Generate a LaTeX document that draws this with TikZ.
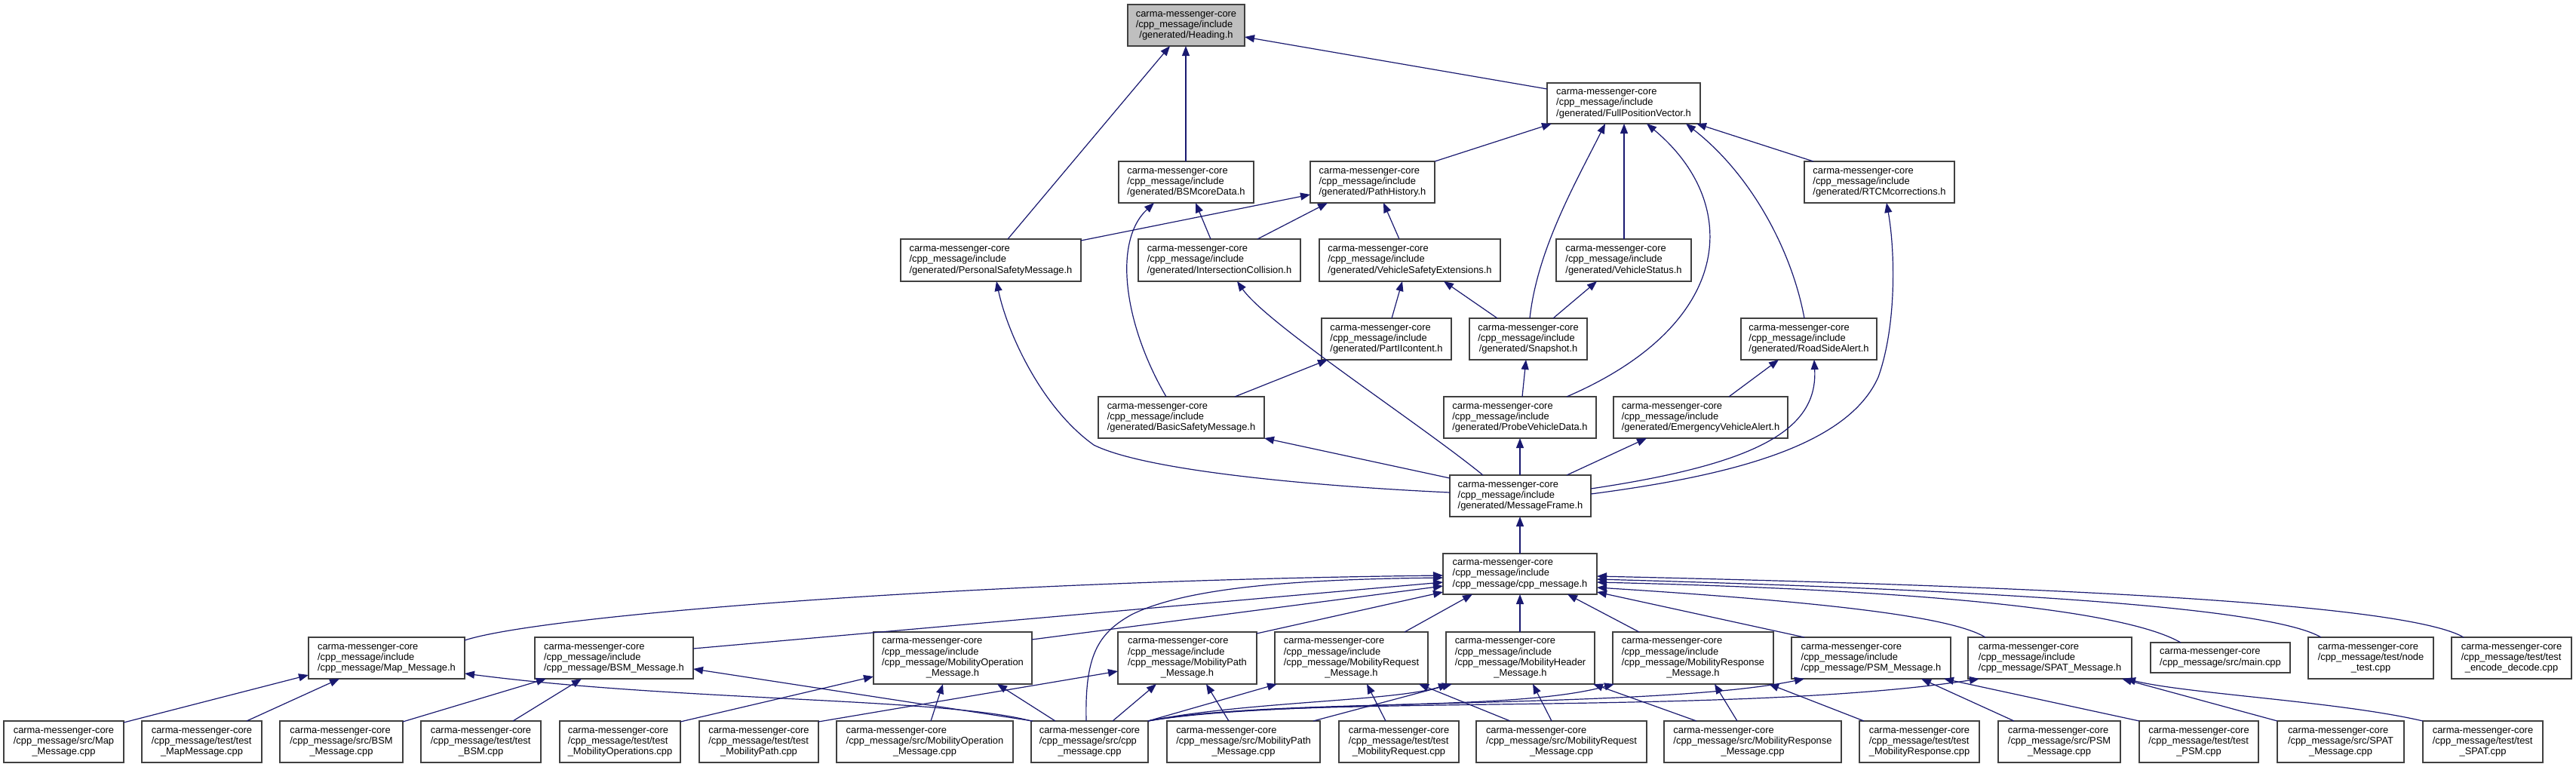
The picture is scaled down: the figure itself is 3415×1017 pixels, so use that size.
\documentclass[tikz,border=0pt]{standalone}
\usepackage{fontspec}
\setmainfont{Liberation Sans}
\usetikzlibrary{arrows.meta,calc}
\definecolor{edgec}{HTML}{191970}
\definecolor{boxc}{HTML}{404040}
\definecolor{headfill}{HTML}{BFBFBF}
\tikzset{
  nbox/.style={draw=boxc, line width=0.7pt, inner sep=0pt, outer sep=0pt,
    font=\fontsize{6.45pt}{7.17pt}\selectfont, text=black},
  edge/.style={draw=edgec, line width=0.6pt, -{Triangle[length=6.5pt,width=5pt]}}
}
\newcommand\bx[7][white]{\node[nbox,fill=#1,minimum width={(#5-#3)*0.5pt},minimum height={(#6-#4)*0.5pt}] (#2) at ({(#3+#5)/2},{(#4+#6)/2}) {#7};}
\newcommand\ltwo[2]{\begin{tabular}{@{}l@{}}#1\\\multicolumn{1}{@{}c@{}}{#2}\end{tabular}}
\newcommand\lthree[3]{\begin{tabular}{@{}l@{}}#1\\#2\\\multicolumn{1}{@{}c@{}}{#3}\end{tabular}}
\newcommand\lfour[4]{\begin{tabular}{@{}l@{}}#1\\#2\\#3\\\multicolumn{1}{@{}c@{}}{#4}\end{tabular}}
\newcommand\ptT[2]{($(#1.north west)+(#2,0)$)}
\newcommand\ptB[2]{($(#1.south west)+(#2,0)$)}
\newcommand\ptL[2]{($(#1.north west)+(0,#2)$)}
\newcommand\ptR[2]{($(#1.north east)+(0,#2)$)}
\def\cmc{carma-messenger-core}
\def\inc{/cpp\_message/include}
\begin{document}
\begin{tikzpicture}[x=0.5pt,y=-0.5pt]
\fill[white] (0,0) rectangle (3415,1017);
\useasboundingbox (0,0) rectangle (3415,1017);
% generated headers
\bx[headfill]{head}{1495}{6}{1650}{61}{\lthree{\cmc}{\inc}{/generated/Heading.h}}
\bx{fpv}{2051}{110}{2254}{164}{\lthree{\cmc}{\inc}{/generated/FullPositionVector.h}}
\bx{bsmcore}{1483}{214}{1662}{269}{\lthree{\cmc}{\inc}{/generated/BSMcoreData.h}}
\bx{path}{1737}{214}{1902}{269}{\lthree{\cmc}{\inc}{/generated/PathHistory.h}}
\bx{rtcm}{2392}{214}{2591}{269}{\lthree{\cmc}{\inc}{/generated/RTCMcorrections.h}}
\bx{psmg}{1194}{317}{1433}{373}{\lthree{\cmc}{\inc}{/generated/PersonalSafetyMessage.h}}
\bx{ic}{1509}{317}{1724}{373}{\lthree{\cmc}{\inc}{/generated/IntersectionCollision.h}}
\bx{vse}{1749}{317}{1989}{373}{\lthree{\cmc}{\inc}{/generated/VehicleSafetyExtensions.h}}
\bx{vstat}{2063}{317}{2242}{373}{\lthree{\cmc}{\inc}{/generated/VehicleStatus.h}}
\bx{part}{1752}{422}{1924}{477}{\lthree{\cmc}{\inc}{/generated/PartIIcontent.h}}
\bx{snap}{1948}{422}{2104}{477}{\lthree{\cmc}{\inc}{/generated/Snapshot.h}}
\bx{rsa}{2308}{422}{2488}{477}{\lthree{\cmc}{\inc}{/generated/RoadSideAlert.h}}
\bx{bsm}{1456}{526}{1676}{581}{\lthree{\cmc}{\inc}{/generated/BasicSafetyMessage.h}}
\bx{pvd}{1914}{526}{2116}{581}{\lthree{\cmc}{\inc}{/generated/ProbeVehicleData.h}}
\bx{eva}{2139}{526}{2370}{581}{\lthree{\cmc}{\inc}{/generated/EmergencyVehicleAlert.h}}
\bx{mf}{1922}{630}{2109}{685}{\lthree{\cmc}{\inc}{/generated/MessageFrame.h}}
\bx{cpph}{1913}{734}{2117}{788}{\lthree{\cmc}{\inc}{/cpp\_message/cpp\_message.h}}
% message headers
\bx{maph}{409}{845}{616}{900}{\lthree{\cmc}{\inc}{/cpp\_message/Map\_Message.h}}
\bx{bsmh}{709}{845}{919}{900}{\lthree{\cmc}{\inc}{/cpp\_message/BSM\_Message.h}}
\bx{mopH}{1158}{838}{1368}{907}{\lfour{\cmc}{\inc}{/cpp\_message/MobilityOperation}{\_Message.h}}
\bx{mpathH}{1482}{838}{1666}{907}{\lfour{\cmc}{\inc}{/cpp\_message/MobilityPath}{\_Message.h}}
\bx{mreqH}{1690}{838}{1893}{907}{\lfour{\cmc}{\inc}{/cpp\_message/MobilityRequest}{\_Message.h}}
\bx{mhdrH}{1917}{838}{2114}{907}{\lfour{\cmc}{\inc}{/cpp\_message/MobilityHeader}{\_Message.h}}
\bx{mresH}{2138}{838}{2351}{907}{\lfour{\cmc}{\inc}{/cpp\_message/MobilityResponse}{\_Message.h}}
\bx{psmH}{2375}{845}{2586}{900}{\lthree{\cmc}{\inc}{/cpp\_message/PSM\_Message.h}}
\bx{spatH}{2609}{845}{2826}{900}{\lthree{\cmc}{\inc}{/cpp\_message/SPAT\_Message.h}}
\bx{mainc}{2851}{852}{3036}{892}{\ltwo{\cmc}{/cpp\_message/src/main.cpp}}
\bx{nodet}{3060}{845}{3226}{900}{\lthree{\cmc}{/cpp\_message/test/node}{\_test.cpp}}
\bx{encd}{3250}{845}{3409}{900}{\lthree{\cmc}{/cpp\_message/test/test}{\_encode\_decode.cpp}}
% sources
\bx{mapc}{5}{956}{164}{1011}{\lthree{\cmc}{/cpp\_message/src/Map}{\_Message.cpp}}
\bx{tmap}{188}{956}{347}{1011}{\lthree{\cmc}{/cpp\_message/test/test}{\_MapMessage.cpp}}
\bx{bsmc}{371}{956}{534}{1011}{\lthree{\cmc}{/cpp\_message/src/BSM}{\_Message.cpp}}
\bx{tbsm}{558}{956}{717}{1011}{\lthree{\cmc}{/cpp\_message/test/test}{\_BSM.cpp}}
\bx{tmop}{742}{956}{902}{1011}{\lthree{\cmc}{/cpp\_message/test/test}{\_MobilityOperations.cpp}}
\bx{tmpath}{927}{956}{1085}{1011}{\lthree{\cmc}{/cpp\_message/test/test}{\_MobilityPath.cpp}}
\bx{mopc}{1109}{956}{1343}{1011}{\lthree{\cmc}{/cpp\_message/src/MobilityOperation}{\_Message.cpp}}
\bx{cppc}{1367}{956}{1522}{1011}{\lthree{\cmc}{/cpp\_message/src/cpp}{\_message.cpp}}
\bx{mpathc}{1547}{956}{1750}{1011}{\lthree{\cmc}{/cpp\_message/src/MobilityPath}{\_Message.cpp}}
\bx{tmreq}{1775}{956}{1934}{1011}{\lthree{\cmc}{/cpp\_message/test/test}{\_MobilityRequest.cpp}}
\bx{mreqc}{1957}{956}{2183}{1011}{\lthree{\cmc}{/cpp\_message/src/MobilityRequest}{\_Message.cpp}}
\bx{mresc}{2206}{956}{2441}{1011}{\lthree{\cmc}{/cpp\_message/src/MobilityResponse}{\_Message.cpp}}
\bx{tmres}{2465}{956}{2624}{1011}{\lthree{\cmc}{/cpp\_message/test/test}{\_MobilityResponse.cpp}}
\bx{psmc}{2649}{956}{2811}{1011}{\lthree{\cmc}{/cpp\_message/src/PSM}{\_Message.cpp}}
\bx{tpsm}{2836}{956}{2994}{1011}{\lthree{\cmc}{/cpp\_message/test/test}{\_PSM.cpp}}
\bx{spatc}{3019}{956}{3187}{1011}{\lthree{\cmc}{/cpp\_message/src/SPAT}{\_Message.cpp}}
\bx{tspat}{3212}{956}{3371}{1011}{\lthree{\cmc}{/cpp\_message/test/test}{\_SPAT.cpp}}
% upper edges
\draw[edge] \ptL{fpv}{8} -- \ptR{head}{43};
\draw[edge] \ptT{bsmcore}{89} -- \ptB{head}{77};
\draw[edge] \ptT{psmg}{142} -- \ptB{head}{56};
\draw[edge] \ptT{path}{165} -- \ptB{fpv}{6};
\draw[edge] \ptT{snap}{80} .. controls (2038,330) and (2090,240) .. \ptB{fpv}{77};
\draw[edge] \ptT{vstat}{90} -- \ptB{fpv}{102};
\draw[edge] \ptT{pvd}{163} .. controls (2300,430) and (2310,270) .. \ptB{fpv}{132};
\draw[edge] \ptT{rsa}{84} .. controls (2375,330) and (2320,230) .. \ptB{fpv}{184};
\draw[edge] \ptT{rtcm}{12} -- \ptB{fpv}{198};
\draw[edge] \ptT{ic}{96} -- \ptB{bsmcore}{102};
\draw[edge] \ptT{bsm}{90} .. controls (1490,430) and (1475,320) .. \ptB{bsmcore}{47};
\draw[edge] \ptR{psmg}{2} -- \ptL{path}{44};
\draw[edge] \ptT{ic}{158} -- \ptB{path}{23};
\draw[edge] \ptT{vse}{106} -- \ptB{path}{97};
\draw[edge] \ptT{part}{93} -- \ptB{vse}{110};
\draw[edge] \ptT{snap}{37} -- \ptB{vse}{165};
\draw[edge] \ptT{snap}{111} -- \ptB{vstat}{54};
\draw[edge] \ptT{pvd}{104} -- \ptB{snap}{75};
\draw[edge] \ptT{bsm}{181} -- \ptB{part}{8};
\draw[edge] \ptT{eva}{153} -- \ptB{rsa}{50};
\draw[edge] \ptL{mf}{23} .. controls (1750,645) and (1520,625) .. (1450,590) .. controls (1380,540) and (1335,440) .. \ptB{psmg}{127};
\draw[edge] \ptT{mf}{44} .. controls (1880,560) and (1680,430) .. \ptB{ic}{131};
\draw[edge] \ptL{mf}{4} -- (bsm.south east);
\draw[edge] \ptT{mf}{93} -- \ptB{pvd}{101};
\draw[edge] \ptT{mf}{155} -- \ptB{eva}{44};
\draw[edge] \ptR{mf}{18} .. controls (2330,615) and (2410,570) .. \ptB{rsa}{97};
\draw[edge] \ptR{mf}{25} .. controls (2300,630) and (2450,590) .. (2490,500) .. controls (2515,430) and (2512,330) .. \ptB{rtcm}{109};
\draw[edge] \ptT{cpph}{102} -- \ptB{mf}{93};
% into cpp_message.h
\draw[edge] \ptR{maph}{4} .. controls (720,815) and (1300,770) .. \ptL{cpph}{29};
\draw[edge] \ptR{bsmh}{15} -- \ptL{cpph}{38};
\draw[edge] \ptR{mopH}{10} -- \ptL{cpph}{43};
\draw[edge] \ptT{cppc}{73} .. controls (1438,870) and (1455,840) .. (1500,815) .. controls (1580,775) and (1750,768) .. \ptL{cpph}{32};
\draw[edge] \ptR{mpathH}{2} -- \ptL{cpph}{51};
\draw[edge] \ptT{mreqH}{172} -- \ptB{cpph}{39};
\draw[edge] \ptT{mhdrH}{98} -- \ptB{cpph}{102};
\draw[edge] \ptT{mresH}{35} -- \ptB{cpph}{165};
\draw[edge] \ptT{psmH}{17} -- \ptR{cpph}{51};
\draw[edge] \ptT{spatH}{23} .. controls (2590,820) and (2450,800) .. \ptR{cpph}{45};
\draw[edge] \ptT{mainc}{40} .. controls (2800,800) and (2450,780) .. \ptR{cpph}{38};
\draw[edge] \ptT{nodet}{17} .. controls (3000,800) and (2550,780) .. \ptR{cpph}{34};
\draw[edge] \ptT{encd}{16} .. controls (3180,795) and (2600,775) .. \ptR{cpph}{30};
% bottom edges
\draw[edge] \ptR{mapc}{2} -- \ptL{maph}{50};
\draw[edge] \ptT{tmap}{139} -- \ptB{maph}{41};
\draw[edge] (cppc.north west) .. controls (1250,925) and (900,930) .. \ptR{maph}{48};
\draw[edge] \ptR{bsmc}{1} -- \ptB{bsmh}{15};
\draw[edge] \ptT{tbsm}{122} -- \ptB{bsmh}{62};
\draw[edge] \ptT{cppc}{2} -- \ptR{bsmh}{42};
\draw[edge] \ptR{tmop}{1} -- \ptL{mopH}{59};
\draw[edge] \ptT{mopc}{125} -- \ptB{mopH}{92};
\draw[edge] \ptT{cppc}{32} -- \ptB{mopH}{164};
\draw[edge] \ptR{tmpath}{1} -- \ptL{mpathH}{52};
\draw[edge] \ptT{cppc}{108} -- \ptB{mpathH}{51};
\draw[edge] \ptT{mpathc}{82} -- \ptB{mpathH}{117};
\draw[edge] (cppc.north east) -- \ptB{mreqH}{3};
\draw[edge] \ptT{tmreq}{62} -- \ptB{mreqH}{122};
\draw[edge] \ptT{mreqc}{45} -- \ptB{mreqH}{191};
\draw[edge] (cppc.north east) .. controls (1650,930) and (1850,930) .. \ptB{mhdrH}{3};
\draw[edge] \ptT{mpathc}{194} -- \ptB{mhdrH}{8};
\draw[edge] \ptT{mreqc}{100} -- \ptB{mhdrH}{115};
\draw[edge] \ptT{mresc}{43} -- \ptB{mhdrH}{195};
\draw[edge] (cppc.north east) .. controls (1700,925) and (2000,945) .. \ptB{mresH}{2};
\draw[edge] \ptT{mresc}{97} -- \ptB{mresH}{135};
\draw[edge] \ptT{tmres}{6} -- \ptB{mresH}{207};
\draw[edge] (cppc.north east) .. controls (1700,925) and (2200,940) .. \ptB{psmH}{17};
\draw[edge] \ptT{psmc}{21} -- \ptB{psmH}{172};
\draw[edge] (tpsm.north west) -- \ptB{psmH}{202};
\draw[edge] (cppc.north east) .. controls (1700,920) and (2300,950) .. \ptB{spatH}{15};
\draw[edge] (spatc.north west) -- \ptB{spatH}{204};
\draw[edge] (tspat.north west) .. controls (3100,930) and (2900,920) .. \ptB{spatH}{209};
\end{tikzpicture}
\end{document}
